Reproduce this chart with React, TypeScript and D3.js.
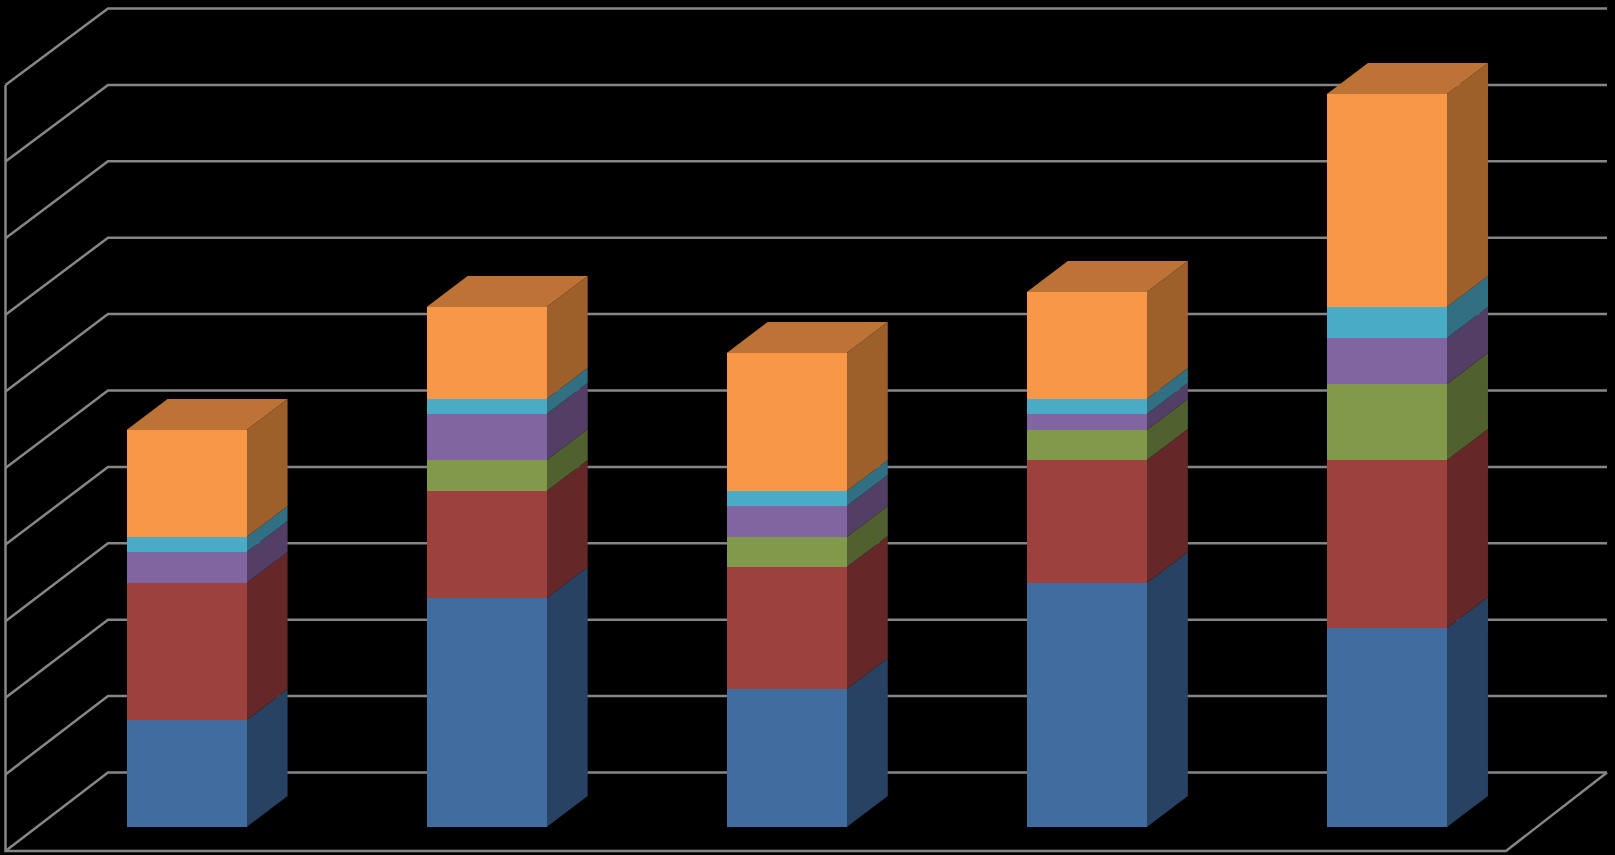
import React from 'react';
import * as d3 from 'd3';

// no labels are visible in the picture, categories are just placeholders
const categories = ['A', 'B', 'C', 'D', 'E'];
const gridTicks = [0, 1, 2, 3, 4, 5, 6, 7, 8, 9, 10];

const series1 = [1.4, 3.0, 1.8, 3.2, 2.6];
const series2 = [1.8, 1.4, 1.6, 1.6, 2.2];
const series3 = [0, 0.4, 0.4, 0.4, 1.0];
const series4 = [0.4, 0.6, 0.4, 0.2, 0.6];
const series5 = [0.2, 0.2, 0.2, 0.2, 0.4];
const series6 = [1.4, 1.2, 1.8, 1.4, 2.8];

const seriesKeys = ['s1', 's2', 's3', 's4', 's5', 's6'];
const frontColors = ['#416C9E', '#9D413E', '#82984A', '#8165A0', '#4AABC6', '#F99748'];
const sideColors = ['#284263', '#652727', '#50602E', '#533F66', '#307082', '#9D602B'];
const topColor = '#BC7335';
const gridColor = '#868686';

const rows = categories.map((c, i) => ({
    category: c,
    s1: series1[i],
    s2: series2[i],
    s3: series3[i],
    s4: series4[i],
    s5: series5[i],
    s6: series6[i],
}));

const width = 1615;
const height = 855;

const App = () => {
    // floor corners of the 3d box
    const frontLeft = 5.5;
    const frontRight = 1506;
    const wallDx = 102.5;

    const yBack = d3.scaleLinear().domain([0, 10]).range([772.5, 8.5]);
    const yFront = d3.scaleLinear().domain([0, 10]).range([851, 85]);
    const yBar = d3.scaleLinear().domain([0, 10]).range([827, 63]);

    const x = d3.scaleBand<string>()
        .domain(categories)
        .range([frontLeft, frontRight])
        .paddingInner(0.6)
        .paddingOuter(0.3);

    // bars sit a bit behind the front edge of the floor
    const barShift = 31;
    const depthX = 41;
    const depthY = 31;

    const stacked = d3.stack<any>().keys(seriesKeys)(rows);
    const line = d3.line();

    return (
        <svg
            width={width}
            height={height}
            viewBox={`0 0 ${width} ${height}`}
            style={{ position: 'absolute', left: 0, top: 0, background: '#000', display: 'block' }}
        >
            <g fill="none" stroke={gridColor} strokeWidth={2.5}>
                {gridTicks.map((t) => (
                    <path
                        key={t}
                        d={line([
                            [frontLeft, yFront(t)],
                            [frontLeft + wallDx, yBack(t)],
                            [1607, yBack(t)],
                        ]) as string}
                    />
                ))}
                <path d={line([[frontLeft, yFront(10)], [frontLeft, yFront(0)], [frontRight, yFront(0)], [1607, yBack(0)]]) as string} />
            </g>

            {categories.map((c, ci) => {
                const x0 = (x(c) as number) + barShift;
                const x1 = x0 + x.bandwidth();
                return (
                    <g key={c}>
                        {stacked.map((layer, si) => {
                            const yLow = Math.round(yBar(layer[ci][0]));
                            const yHigh = Math.round(yBar(layer[ci][1]));
                            if (yLow === yHigh) return null;
                            return (
                                <g key={layer.key}>
                                    <path
                                        d={line([[x1, yLow], [x1 + depthX, yLow - depthY], [x1 + depthX, yHigh - depthY], [x1, yHigh]]) + 'Z'}
                                        fill={sideColors[si]}
                                    />
                                    <rect x={x0} y={yHigh} width={x1 - x0} height={yLow - yHigh} fill={frontColors[si]} shapeRendering="crispEdges" />
                                </g>
                            );
                        })}
                        {(() => {
                            const top = Math.round(yBar(stacked[stacked.length - 1][ci][1]));
                            return (
                                <path
                                    d={line([[x0, top], [x0 + depthX, top - depthY], [x1 + depthX, top - depthY], [x1, top]]) + 'Z'}
                                    fill={topColor}
                                />
                            );
                        })()}
                    </g>
                );
            })}
        </svg>
    );
};

export default App;
